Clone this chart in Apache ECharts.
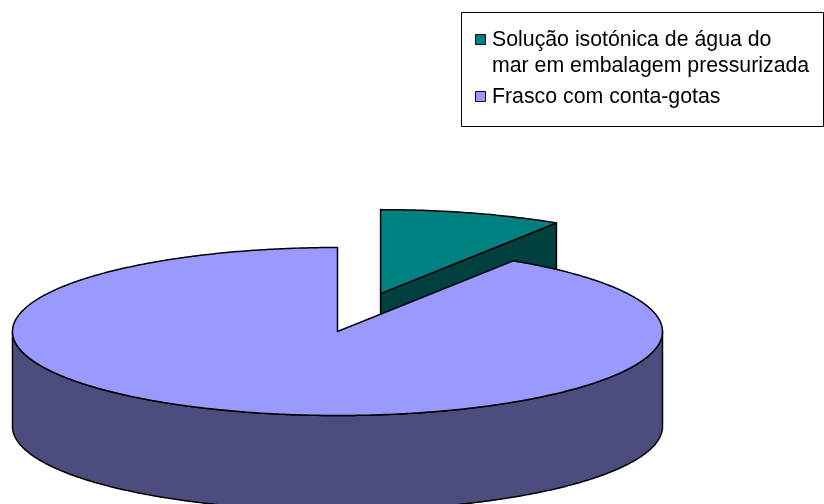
<!DOCTYPE html>
<html><head><meta charset="utf-8">
<script src="https://cdn.jsdelivr.net/npm/echarts@6/dist/echarts.min.js"></script>
<style>html,body{margin:0;padding:0;background:#fff}#c{width:824px;height:504px}</style>
</head><body><div id="c"></div>
<script>
// ---- data ----
const categories = ['Solução isotónica de água do mar em embalagem pressurizada', 'Frasco com conta-gotas'];
const legendLines = [['Solução isotónica de água do', 'mar em embalagem pressurizada'], ['Frasco com conta-gotas']];
const values = [9.1, 90.9];
const explodes = [0.47, 0];
const topColors = ['#008080', '#9999FF'];
const sideColors = ['#004040', '#4C4C7F'];

// ---- layout ----
const CX = 337.5, CY = 331.5, RX = 325, RY = 84, DEPTH = 95;
const total = values.reduce((a, b) => a + b, 0);
const starts = []; let acc = 0;
values.forEach(v => { starts.push(acc / total * 2 * Math.PI); acc += v; });

function pt(cx, cy, th, dz) { return [cx + RX * Math.sin(th), cy - RY * Math.cos(th) + (dz || 0)]; }
function arc(cx, cy, a, b, dz) {
  const pts = [];
  const n = Math.max(2, Math.ceil(Math.abs(b - a) / (Math.PI / 360)));
  for (let i = 0; i <= n; i++) pts.push(pt(cx, cy, a + (b - a) * i / n, dz));
  return pts;
}

function renderItem(params, api) {
  const i = params.dataIndex;
  const v = api.value(0);
  const a = starts[i], b = a + v / total * 2 * Math.PI;
  const mid = (a + b) / 2;
  const ex = explodes[i];
  const cx = CX + ex * RX * Math.sin(mid), cy = CY - ex * RY * Math.cos(mid);
  const children = [];
  const side = { fill: sideColors[i], stroke: '#000', lineWidth: 1.5, lineJoin: 'round' };
  if (Math.sin(a) < -1e-6) {
    const p = pt(cx, cy, a);
    children.push({ type: 'polygon', shape: { points: [[cx, cy], p, [p[0], p[1] + DEPTH], [cx, cy + DEPTH]] }, style: side });
  }
  if (Math.sin(b) > 1e-6) {
    const p = pt(cx, cy, b);
    children.push({ type: 'polygon', shape: { points: [[cx, cy], p, [p[0], p[1] + DEPTH], [cx, cy + DEPTH]] }, style: side });
  }
  const fa = Math.max(a, Math.PI / 2), fb = Math.min(b, 3 * Math.PI / 2);
  if (fb > fa) {
    const top = arc(cx, cy, fa, fb, 0), bot = arc(cx, cy, fb, fa, DEPTH);
    children.push({ type: 'polygon', shape: { points: top.concat(bot) }, style: side });
  }
  children.push({ type: 'polygon', shape: { points: [[cx, cy]].concat(arc(cx, cy, a, b, 0)) },
    style: { fill: topColors[i], stroke: '#000', lineWidth: 1.5, lineJoin: 'round' } });
  return { type: 'group', children };
}

// ---- legend (graphic) ----
const legendGraphic = [{ type: 'rect', shape: { x: 461.5, y: 12.5, width: 362, height: 114 }, style: { fill: '#fff', stroke: '#000', lineWidth: 1 } }];
const legendRowY = [40, 97];
legendLines.forEach((lines, i) => {
  legendGraphic.push({ type: 'rect', shape: { x: 475.5, y: legendRowY[i] - 5.5, width: 10, height: 10 }, style: { fill: topColors[i], stroke: '#000', lineWidth: 1 } });
  lines.forEach((t, j) => {
    legendGraphic.push({ type: 'text', style: { text: t, x: 492, y: legendRowY[i] + j * 26, font: '21.3px "Liberation Sans", Arial, sans-serif', fill: '#000', verticalAlign: 'middle', align: 'left' } });
  });
});

const chart = echarts.init(document.getElementById('c'), null, { renderer: 'canvas' });
chart.setOption({
  animation: false,
  backgroundColor: '#fff',
  graphic: legendGraphic,
  series: [{
    type: 'custom',
    coordinateSystem: 'none',
    renderItem: renderItem,
    data: values.map((v, i) => ({ value: [v], name: categories[i] }))
  }]
});
</script></body></html>
